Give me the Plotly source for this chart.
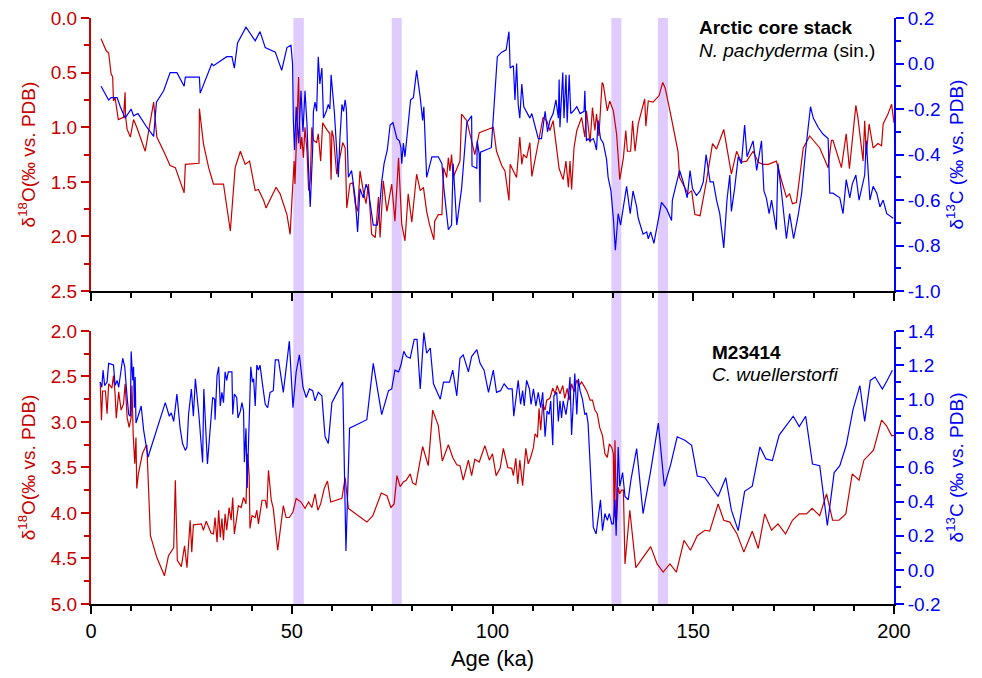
import plotly.graph_objects as go

# ---------------- data ----------------
# Arctic core stack, N. pachyderma (sin.)
arctic_o18_age = [2.5,3.8,4.4,5.0,5.4,5.6,6.0,6.8,8.1,8.5,8.6,9.0,9.8,10.6,11.4,13.5,15.6,16.4,18.1,19.7,21.0,23.2,23.5,26.9,27.0,28.0,29.3,30.5,33.0,34.7,35.9,37.2,38.4,39.5,40.9,41.7,43.0,43.6,46.1,47.1,48.8,49.6,50.0,50.6,50.8,51.3,51.7,51.9,52.2,52.5,52.9,53.3,53.8,54.2,54.6,55.0,55.4,56.2,56.6,57.2,57.7,58.7,59.5,59.8,60.0,60.4,61.2,62.7,63.3,63.7,64.5,65.2,65.8,66.4,67.0,67.8,68.5,69.1,69.9,70.8,71.6,72.0,72.8,73.7,74.9,75.7,76.6,77.4,78.2,79.0,79.9,81.1,82.0,82.8,83.6,84.3,85.4,85.6,86.5,87.4,87.8,88.6,89.0,89.4,89.8,90.2,91.1,91.9,92.3,93.6,95.6,96.7,100.2,101.0,102.3,103.1,104.1,104.4,105.2,106.0,106.8,107.3,107.7,108.5,109.3,109.8,111.0,112.6,113.5,114.3,115.1,116.0,116.6,117.6,118.3,118.9,119.3,119.7,120.3,121.0,122.2,123.0,123.4,124.3,124.9,125.5,125.9,126.5,127.3,127.6,128.6,129.2,130.1,130.9,131.7,132.6,133.2,133.6,134.4,134.9,135.5,136.3,137.9,138.2,138.8,140.0,140.7,141.5,142.4,143.0,144.2,145.4,146.2,146.6,147.9,148.7,149.6,150.4,151.7,153.3,154.8,155.8,157.6,159.5,160.8,162.0,163.3,164.9,166.2,167.4,168.7,170.7,172.0,173.2,174.0,174.7,175.7,177.4,179.0,181.5,183.6,184.4,184.8,186.9,188.1,188.9,190.5,191.0,192.3,192.7,193.1,193.8,194.8,196.0,196.9,197.3,198.5,199.4,200.0]
arctic_d18o = [0.19,0.30,0.32,0.51,0.54,0.76,0.73,0.93,0.91,0.68,0.90,1.02,1.09,0.93,1.00,1.22,0.77,1.09,1.22,1.35,1.37,1.60,1.34,1.33,0.83,1.15,1.37,1.52,1.52,1.95,1.37,1.22,1.34,1.31,1.58,1.57,1.67,1.74,1.55,1.61,1.80,1.98,1.70,1.31,1.52,0.85,0.54,0.94,1.20,1.09,1.28,1.00,1.22,1.58,1.49,1.00,1.12,1.14,1.06,1.31,0.96,1.02,1.06,1.48,1.03,1.09,1.43,1.14,1.19,1.74,1.52,1.51,1.70,1.77,1.40,1.58,1.70,1.52,1.98,2.01,1.64,2.01,1.49,1.77,1.52,1.86,1.28,1.89,2.04,1.61,1.87,1.43,1.58,1.55,1.77,1.89,2.03,1.86,1.80,1.80,1.37,1.46,1.28,1.40,1.25,1.46,1.37,1.31,0.88,0.94,1.25,1.05,1.00,1.22,1.35,1.40,1.67,1.34,1.40,1.46,1.09,1.34,1.25,1.28,1.14,1.45,1.22,0.91,0.94,1.03,0.94,1.19,1.38,1.48,1.31,1.55,1.31,1.57,1.19,1.03,0.91,1.09,0.85,1.14,0.82,1.03,0.88,1.08,0.59,0.61,0.85,0.76,0.85,1.06,1.48,1.28,1.03,1.22,1.22,0.94,1.22,0.97,0.74,0.99,0.76,0.77,0.74,0.71,0.59,0.64,0.85,1.06,1.22,1.46,1.55,1.61,1.58,1.80,1.81,1.49,1.15,1.20,1.02,1.43,1.22,1.32,1.31,1.22,1.32,1.34,1.34,1.31,1.49,1.64,1.61,1.70,1.69,1.19,1.08,1.19,1.37,1.12,1.12,1.37,1.06,1.38,0.80,0.91,1.31,0.94,1.25,0.97,1.19,1.15,1.17,0.97,0.88,0.79,0.96]

arctic_c13_age = [2.5,4.4,5.0,6.5,7.3,8.5,10.0,10.6,11.7,13.9,15.6,16.3,18.1,19.7,21.4,23.2,23.5,27.0,27.2,30.1,30.5,33.8,35.1,35.7,36.5,38.6,40.9,42.1,43.4,45.9,47.5,48.8,49.8,50.2,50.4,50.7,51.1,51.7,52.3,52.8,53.3,53.8,54.2,54.6,55.2,55.4,55.8,56.2,56.6,57.0,57.5,57.9,58.6,59.1,59.5,59.8,60.6,61.1,61.6,62.0,62.5,62.9,63.3,63.6,64.1,64.9,65.8,66.4,67.0,67.8,68.5,69.1,69.7,70.3,71.3,71.8,72.4,73.0,73.8,74.5,75.2,75.7,76.2,76.8,77.2,77.4,77.8,78.2,78.6,79.0,79.6,80.3,81.1,82.0,82.6,82.9,83.6,84.9,85.7,86.5,87.4,87.9,89.0,89.8,90.2,91.1,92.3,93.6,94.8,94.9,96.1,96.2,96.7,96.9,97.0,99.7,100.6,101.2,102.3,103.4,104.1,104.4,105.2,105.6,106.0,106.4,106.8,107.3,107.8,109.3,109.8,110.6,111.4,112.2,113.1,113.7,114.3,115.1,115.8,116.4,116.6,116.8,117.5,117.8,118.3,118.6,119.1,119.5,120.1,121.0,121.8,122.8,123.0,123.4,123.8,124.3,125.1,125.5,125.9,126.3,126.9,127.6,128.4,128.8,129.5,130.1,130.6,131.3,131.9,132.6,133.4,134.3,135.0,135.9,136.3,137.5,138.4,138.8,139.4,140.2,140.9,142.1,143.4,144.6,144.8,145.7,146.6,147.5,148.5,149.2,149.8,150.8,151.7,152.5,153.2,154.2,155.0,155.8,156.6,157.6,158.4,159.1,159.5,160.3,161.2,162.0,162.8,163.4,164.9,165.8,166.4,167.0,167.6,168.2,168.9,169.5,170.7,171.1,172.0,173.2,174.0,175.0,176.1,177.0,178.0,179.2,179.9,181.1,182.3,183.6,184.0,184.8,186.5,187.3,188.1,189.0,189.6,190.5,191.3,191.9,192.7,193.1,194.0,194.8,195.7,196.5,197.3,198.2,199.8]
arctic_d13c = [-0.10,-0.16,-0.15,-0.15,-0.19,-0.24,-0.20,-0.23,-0.22,-0.28,-0.32,-0.17,-0.12,-0.04,-0.04,-0.10,-0.06,-0.06,-0.13,0.00,-0.01,0.03,0.03,-0.02,0.09,0.16,0.10,0.14,0.07,0.05,-0.03,0.07,0.08,0.00,-0.25,-0.38,-0.19,-0.35,-0.12,-0.30,-0.12,-0.27,-0.47,-0.63,-0.38,-0.21,-0.17,-0.21,0.03,-0.09,-0.02,-0.24,-0.21,-0.18,-0.20,-0.05,-0.21,-0.35,-0.50,-0.33,-0.18,-0.21,-0.16,-0.20,-0.50,-0.47,-0.59,-0.74,-0.55,-0.59,-0.53,-0.56,-0.63,-0.71,-0.71,-0.65,-0.52,-0.44,-0.38,-0.27,-0.26,-0.30,-0.33,-0.34,-0.37,-0.44,-0.35,-0.41,-0.34,-0.25,-0.16,-0.15,-0.03,-0.15,-0.25,-0.19,-0.50,-0.41,-0.41,-0.41,-0.44,-0.55,-0.73,-0.71,-0.44,-0.71,-0.55,-0.26,-0.23,-0.45,-0.46,-0.34,-0.40,-0.61,-0.39,-0.37,-0.13,0.03,0.05,0.06,0.14,-0.02,-0.01,-0.16,0.00,-0.18,-0.24,-0.09,-0.19,-0.24,-0.22,-0.27,-0.33,-0.33,-0.21,-0.30,-0.25,-0.22,-0.16,-0.24,-0.07,-0.28,-0.04,-0.24,-0.05,-0.26,-0.05,-0.22,-0.21,-0.19,-0.22,-0.21,-0.12,-0.34,-0.33,-0.34,-0.33,-0.35,-0.38,-0.25,-0.33,-0.35,-0.42,-0.50,-0.56,-0.68,-0.82,-0.66,-0.71,-0.63,-0.54,-0.66,-0.56,-0.63,-0.68,-0.75,-0.74,-0.77,-0.74,-0.79,-0.72,-0.61,-0.64,-0.69,-0.60,-0.53,-0.47,-0.52,-0.59,-0.47,-0.55,-0.58,-0.56,-0.52,-0.40,-0.52,-0.52,-0.60,-0.66,-0.81,-0.60,-0.49,-0.65,-0.55,-0.41,-0.44,-0.27,-0.41,-0.34,-0.47,-0.40,-0.34,-0.56,-0.59,-0.66,-0.60,-0.73,-0.44,-0.57,-0.77,-0.66,-0.77,-0.67,-0.57,-0.38,-0.19,-0.24,-0.28,-0.31,-0.33,-0.57,-0.57,-0.59,-0.66,-0.51,-0.59,-0.53,-0.49,-0.60,-0.55,-0.49,-0.34,-0.60,-0.54,-0.57,-0.63,-0.60,-0.66,-0.68]

# M23414, C. wuellerstorfi
m_o18_age = [2.3,2.6,2.9,3.6,4.0,4.4,5.2,5.6,6.0,6.3,6.9,7.5,8.1,8.5,9.0,9.5,10.0,10.2,10.5,10.9,11.2,11.4,11.8,12.3,12.8,13.5,13.9,14.8,16.4,18.3,19.3,20.6,21.0,21.5,22.5,23.3,23.9,24.7,25.1,25.5,27.5,28.0,28.7,29.9,30.5,30.9,31.4,31.8,32.2,32.6,33.0,33.4,33.8,34.4,34.9,35.3,35.7,36.3,36.7,37.4,38.0,38.6,39.0,39.4,39.6,40.1,40.9,41.3,41.7,42.6,43.4,43.8,44.2,44.9,45.4,46.5,47.9,48.6,49.4,50.3,51.1,52.3,53.3,54.2,55.0,55.8,56.5,57.2,58.1,58.9,59.7,62.5,63.3,64.1,68.7,70.2,72.3,73.7,74.7,75.5,76.2,77.0,77.8,78.5,79.5,80.1,80.9,82.6,84.0,85.1,86.5,87.5,89.0,90.1,91.1,91.9,92.7,94.0,94.8,95.6,96.7,98.1,99.2,100.0,100.9,101.9,102.7,103.8,104.8,105.2,105.8,106.3,106.8,107.5,108.3,108.9,109.5,110.2,110.6,111.2,111.6,112.0,112.5,113.1,113.5,114.3,115.0,115.6,116.1,116.8,117.5,118.0,118.6,119.1,119.7,120.3,121.0,121.6,122.2,123.0,123.6,124.3,124.9,125.5,126.1,126.7,127.4,128.0,128.6,129.1,129.7,130.1,130.3,130.5,130.9,131.3,131.7,132.1,132.6,133.0,134.2,135.7,137.5,139.4,141.0,142.5,144.2,145.8,147.7,149.3,151.0,152.9,154.1,156.2,157.6,159.1,160.9,162.6,164.7,166.2,167.8,169.5,171.1,173.0,174.7,176.4,178.2,179.6,181.5,183.2,184.7,186.3,188.0,189.6,191.3,192.5,194.9,196.9,198.1,199.4,200.0]
m_d18o = [2.56,2.98,2.66,2.66,2.91,2.58,2.63,2.49,2.69,2.96,2.67,2.87,2.80,2.58,2.95,3.06,2.95,2.60,3.13,3.46,3.17,3.73,3.57,3.46,3.35,3.28,3.25,4.25,4.49,4.69,4.47,4.38,3.64,4.52,4.59,4.36,4.60,4.08,4.43,4.13,4.12,4.19,4.09,4.22,4.23,4.05,4.32,3.97,4.27,4.06,4.30,4.01,4.19,3.94,4.08,3.83,4.23,4.05,3.92,3.94,3.83,3.90,3.35,3.59,4.17,4.03,4.05,3.97,4.12,3.86,3.86,3.95,3.53,3.86,3.95,4.41,3.92,4.05,4.05,3.99,3.84,3.88,3.95,3.88,3.94,3.79,3.97,3.90,3.73,3.65,3.88,3.84,3.61,3.95,4.10,4.03,3.78,3.81,3.94,3.90,3.59,3.71,3.66,3.64,3.57,3.67,3.69,3.27,3.48,2.87,3.04,3.43,3.25,3.39,3.47,3.48,3.64,3.42,3.59,3.41,3.44,3.26,3.42,3.35,3.59,3.51,3.29,3.50,3.51,3.59,3.40,3.68,3.42,3.70,3.29,3.46,3.39,3.28,3.13,3.17,2.85,3.09,2.80,2.87,2.76,2.74,2.63,2.69,2.60,2.69,2.60,2.74,2.63,2.76,2.58,2.67,2.54,2.60,2.56,2.62,2.67,2.76,2.76,2.87,2.91,3.06,3.15,3.35,3.39,3.24,3.28,3.35,4.05,3.20,4.08,3.72,3.79,3.75,3.75,4.56,3.97,4.60,4.49,4.37,4.56,4.65,4.56,4.65,4.30,4.41,4.25,4.19,4.20,3.90,4.08,4.10,4.23,4.43,4.20,4.39,4.01,4.19,4.12,4.23,4.08,4.01,4.01,3.95,4.03,3.79,4.08,4.08,4.01,3.57,3.64,3.42,3.31,2.98,3.04,3.15,3.15]

m_c13_age = [2.3,2.7,3.0,3.4,4.0,4.4,5.6,6.0,6.5,6.9,7.9,8.4,9.0,9.4,9.8,10.0,10.4,10.6,10.8,11.0,11.2,11.7,12.5,13.1,13.7,14.2,18.5,19.5,20.0,20.6,21.4,22.2,22.8,23.5,23.9,24.3,25.0,25.5,26.0,26.9,27.8,28.1,29.0,29.7,30.3,30.8,30.9,31.4,31.8,32.2,32.6,33.0,33.4,33.8,34.2,35.1,35.3,35.7,36.3,36.6,37.2,37.6,38.0,38.2,38.6,38.9,39.3,39.8,40.2,40.5,40.9,41.3,41.7,42.1,42.7,43.4,44.0,44.6,45.4,45.9,46.7,47.9,49.4,50.3,51.1,51.9,52.8,53.6,54.4,55.2,55.8,56.6,57.5,58.3,59.1,60.0,62.7,63.5,64.4,68.7,70.3,72.4,74.1,74.9,75.7,76.6,77.2,77.9,78.6,79.5,80.5,81.2,82.0,82.9,83.6,84.5,85.3,87.0,87.8,89.3,90.1,91.1,91.9,92.7,94.0,94.8,96.1,96.9,97.9,99.0,100.2,101.0,102.0,102.9,103.9,104.9,105.3,105.8,106.4,107.0,107.5,107.9,108.5,109.2,109.6,110.2,110.8,111.4,112.0,112.5,113.1,113.6,114.1,114.5,115.0,115.3,116.0,116.4,116.8,117.2,117.6,118.3,118.9,119.3,119.7,120.1,120.5,121.0,121.4,121.8,122.4,123.0,123.4,123.8,124.3,125.1,125.8,126.3,126.9,127.4,128.0,128.6,129.1,129.7,130.1,130.5,130.8,131.3,131.7,132.4,133.0,133.8,134.5,135.9,137.5,139.4,141.3,142.8,144.4,146.0,147.9,149.6,151.0,152.9,154.5,156.2,158.1,159.5,161.2,162.8,164.7,166.6,168.1,169.7,171.4,173.2,174.9,176.4,178.0,179.7,181.5,183.4,185.1,186.5,188.1,189.8,191.5,192.7,194.1,195.3,197.1,198.3,199.6]
m_d13c = [1.10,1.07,1.17,1.08,1.10,1.21,1.20,1.08,1.11,1.07,1.24,1.19,1.01,0.91,0.90,1.28,1.11,1.19,0.95,1.13,0.86,0.90,0.96,0.82,0.73,0.66,0.98,0.90,0.92,0.87,1.03,0.83,0.74,0.70,0.72,0.91,1.06,0.90,1.12,0.90,0.63,1.06,0.62,0.84,1.01,1.00,0.88,1.14,1.19,0.96,1.04,0.98,1.16,1.11,1.16,1.16,0.91,1.03,1.01,0.89,0.93,0.98,0.93,0.63,0.83,0.48,0.80,1.19,1.10,1.12,0.96,1.20,1.17,1.20,1.09,0.97,0.95,1.04,1.05,1.23,1.23,1.04,1.34,0.95,1.16,1.26,1.07,1.01,1.06,1.05,0.99,1.04,1.02,0.78,0.74,0.98,1.10,0.11,0.83,0.88,1.21,0.91,1.05,1.06,1.17,1.16,1.20,1.28,1.25,1.24,1.35,1.35,1.06,1.39,1.27,1.30,1.09,1.00,1.10,1.10,1.17,1.02,1.24,1.26,1.16,1.25,1.29,1.21,1.17,1.04,1.17,1.04,1.05,1.09,1.06,1.06,0.90,0.99,1.11,0.97,1.05,0.96,1.11,1.06,0.97,1.06,0.96,1.04,0.95,1.04,0.78,0.93,0.91,0.99,0.73,1.02,1.04,0.87,0.99,0.89,0.99,0.91,1.01,1.13,0.79,0.97,1.15,0.91,1.12,1.05,1.00,0.91,0.92,0.86,0.62,0.25,0.21,0.29,0.41,0.23,0.33,0.29,0.33,0.27,0.27,0.41,0.20,0.72,0.49,0.57,0.43,0.41,0.53,0.71,0.33,0.58,0.86,0.49,0.62,0.78,0.76,0.73,0.55,0.54,0.49,0.43,0.54,0.35,0.23,0.46,0.49,0.72,0.65,0.64,0.79,0.85,0.90,0.84,0.90,0.62,0.61,0.26,0.57,0.61,0.73,0.94,1.08,0.87,1.11,1.13,1.06,1.11,1.17]

# shaded intervals (ka)
band_start = [50.4, 74.9, 129.6, 141.2]
band_end = [53.0, 77.4, 132.1, 143.7]

# tick labels
age_ticks = [0, 50, 100, 150, 200]
age_labels = ["0", "50", "100", "150", "200"]
o18_top_ticks = [0.0, 0.5, 1.0, 1.5, 2.0, 2.5]
o18_top_labels = ["0.0", "0.5", "1.0", "1.5", "2.0", "2.5"]
c13_top_ticks = [-1.0, -0.8, -0.6, -0.4, -0.2, 0.0, 0.2]
c13_top_labels = ["-1.0", "-0.8", "-0.6", "-0.4", "-0.2", "0.0", "0.2"]
o18_bot_ticks = [2.0, 2.5, 3.0, 3.5, 4.0, 4.5, 5.0]
o18_bot_labels = ["2.0", "2.5", "3.0", "3.5", "4.0", "4.5", "5.0"]
c13_bot_ticks = [-0.2, 0.0, 0.2, 0.4, 0.6, 0.8, 1.0, 1.2, 1.4]
c13_bot_labels = ["-0.2", "0.0", "0.2", "0.4", "0.6", "0.8", "1.0", "1.2", "1.4"]

# ---------------- styling ----------------
RED = "#c80000"
BLUE = "#0000ff"
FONT = "Arial, 'Liberation Sans', sans-serif"
FS = 19

fig = go.Figure()
fig.add_trace(go.Scatter(x=arctic_o18_age, y=arctic_d18o, mode="lines",
                         line=dict(color=RED, width=1.2), xaxis="x", yaxis="y"))
fig.add_trace(go.Scatter(x=arctic_c13_age, y=arctic_d13c, mode="lines",
                         line=dict(color=BLUE, width=1.2), xaxis="x", yaxis="y2"))
fig.add_trace(go.Scatter(x=m_o18_age, y=m_d18o, mode="lines",
                         line=dict(color=RED, width=1.2), xaxis="x2", yaxis="y3"))
fig.add_trace(go.Scatter(x=m_c13_age, y=m_d13c, mode="lines",
                         line=dict(color=BLUE, width=1.2), xaxis="x2", yaxis="y4"))

for s, e in zip(band_start, band_end):
    fig.add_shape(type="rect", xref="x", yref="paper", x0=s, x1=e, y0=0, y1=1,
                  fillcolor="#dfcbfd", line=dict(width=0), layer="below")

def xax(show_labels, anchor):
    d = dict(domain=[0, 1], anchor=anchor, range=[0, 200], showgrid=False, zeroline=False,
             showline=True, linecolor="black", linewidth=2, ticks="outside", ticklen=8,
             tickwidth=1.5, tickcolor="black", tickvals=age_ticks, ticktext=age_labels,
             showticklabels=show_labels, automargin=False, ticklabeloverflow="allow",
             tickfont=dict(family=FONT, size=FS + 1, color="black"),
             minor=dict(dtick=10, ticks="outside", ticklen=5, tickwidth=1.5, tickcolor="black"))
    return d

def yax(color, rng, tickvals, ticktext, minor_dtick, domain=None, anchor=None,
        side="left", overlaying=None, title=""):
    d = dict(range=rng, showgrid=False, zeroline=False, showline=True, linecolor=color,
             linewidth=2, ticks="outside", ticklen=8, tickwidth=1.5, tickcolor=color,
             tickvals=tickvals, ticktext=ticktext, side=side, automargin=False,
             ticklabeloverflow="allow",
             tickfont=dict(family=FONT, size=FS, color=color),
             minor=dict(dtick=minor_dtick, ticks="outside", ticklen=5, tickwidth=1.5,
                        tickcolor=color),
             title=dict(text=title, font=dict(family=FONT, size=FS, color=color), standoff=10))
    if domain is not None:
        d["domain"] = domain
    if anchor is not None:
        d["anchor"] = anchor
    if overlaying is not None:
        d["overlaying"] = overlaying
    return d

TOP = [0.534, 1.0]
BOT = [0.0, 0.466]

# the page body adds an 8 px offset, so margins are compensated
fig.update_layout(
    width=982, height=678,
    margin=dict(l=83, r=96, t=10, b=82),
    paper_bgcolor="white", plot_bgcolor="white",
    showlegend=False,
    font=dict(family=FONT, size=FS, color="black"),
    xaxis=xax(False, "y"),
    xaxis2={**xax(True, "y3"),
            "title": dict(text="Age (ka)", font=dict(family=FONT, size=FS + 3), standoff=10)},
    yaxis=yax(RED, [2.5, 0.0], o18_top_ticks, o18_top_labels, 0.25, domain=TOP, anchor="x",
              title="δ<sup>18</sup>O(‰ vs. PDB)"),
    yaxis2=yax(BLUE, [-1.0, 0.2], c13_top_ticks, c13_top_labels, 0.1, anchor="x",
               side="right", overlaying="y", title="δ<sup>13</sup>C (‰ vs. PDB)"),
    yaxis3=yax(RED, [5.0, 2.0], o18_bot_ticks, o18_bot_labels, 0.25, domain=BOT, anchor="x2",
               title="δ<sup>18</sup>O(‰ vs. PDB)"),
    yaxis4=yax(BLUE, [-0.2, 1.4], c13_bot_ticks, c13_bot_labels, 0.1, anchor="x2",
               side="right", overlaying="y3", title="δ<sup>13</sup>C (‰ vs. PDB)"),
)

fig.add_annotation(x=0.755, y=0.983, xref="paper", yref="paper", xanchor="left",
                   yanchor="middle", showarrow=False, text="<b>Arctic core stack</b>",
                   font=dict(family=FONT, size=FS, color="black"))
fig.add_annotation(x=0.755, y=0.945, xref="paper", yref="paper", xanchor="left",
                   yanchor="middle", showarrow=False, text="<i>N. pachyderma</i> (sin.)",
                   font=dict(family=FONT, size=FS, color="black"))
fig.add_annotation(x=0.771, y=0.430, xref="paper", yref="paper", xanchor="left",
                   yanchor="middle", showarrow=False, text="<b>M23414</b>",
                   font=dict(family=FONT, size=FS, color="black"))
fig.add_annotation(x=0.771, y=0.391, xref="paper", yref="paper", xanchor="left",
                   yanchor="middle", showarrow=False, text="<i>C. wuellerstorfi</i>",
                   font=dict(family=FONT, size=FS, color="black"))

fig.write_html("out.html")
